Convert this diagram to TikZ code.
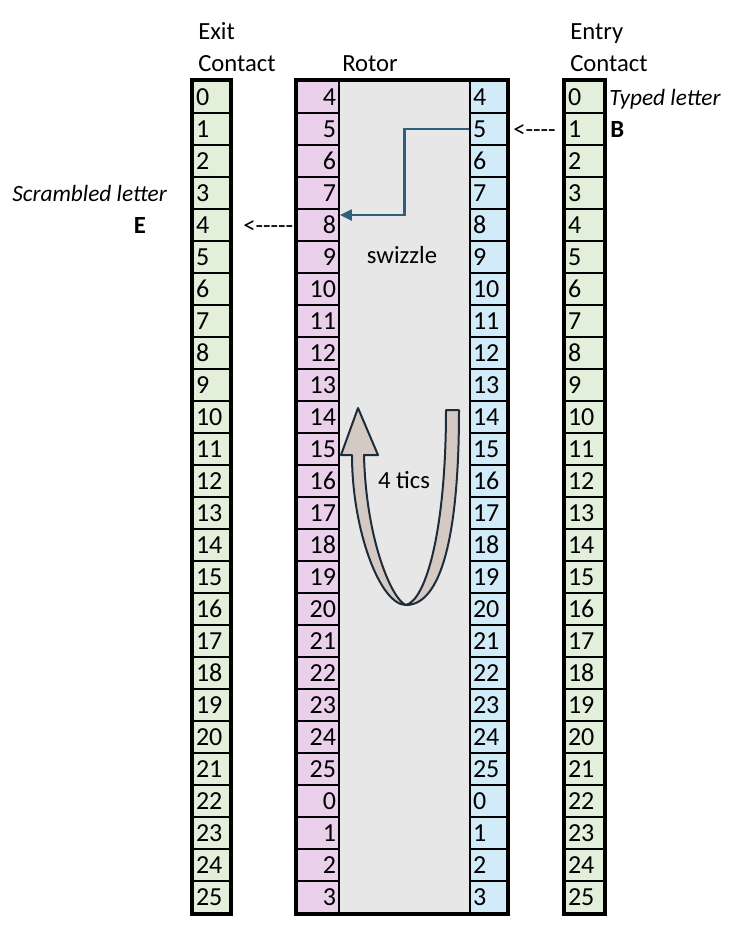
\documentclass[tikz,border=0pt]{standalone}
\usepackage{fontspec}
\setmainfont{Carlito}
\usetikzlibrary{arrows.meta}
\definecolor{cgreen}{HTML}{E2EFDA}
\definecolor{cpink}{HTML}{EBD0EC}
\definecolor{cblue}{HTML}{D2EBF8}
\definecolor{cgray}{HTML}{E7E7E7}
\definecolor{wire}{HTML}{2F5F7F}
\definecolor{tics}{HTML}{D5CAC3}
\definecolor{ticsline}{HTML}{1D2C3A}
\newcommand\myfs{\fontsize{18.5pt}{21pt}\selectfont}
\newcommand\myfsc{\fontsize{19.5pt}{22pt}\selectfont}
\newcommand\myfsi{\fontsize{17.5pt}{20pt}\selectfont\itshape}
\begin{document}
\begin{tikzpicture}[x=0.75pt,y=-0.75pt,
  every node/.style={font=\myfs},
  lbl/.style={inner sep=0pt},
  cell/.style={rectangle,draw=black,line width=1.3pt,minimum height=24pt,inner ysep=0pt,inner xsep=2.25pt,anchor=center,font=\myfsc},
  exitcell/.style={cell,fill=cgreen,text width=23.25pt,align=left},
  entrycell/.style={cell,fill=cgreen,text width=24.75pt,align=left},
  pinkcell/.style={cell,fill=cpink,text width=27pt,align=right},
  bluecell/.style={cell,fill=cblue,text width=23.25pt,align=left},
  frame/.style={draw=black,line width=3pt}
]
\useasboundingbox (0,0) rectangle (752,950);
\fill[cgray] (339,81) rectangle (470,913);
\foreach \i in {0,...,25} {
  \pgfmathtruncatemacro\r{mod(\i+4,26)}
  \pgfmathsetmacro\yc{97+32*\i}
  \node[exitcell] (ex\i) at (211.5,\yc) {\i};
  \node[pinkcell] (pk\i) at (318,\yc) {\r};
  \node[bluecell] (bl\i) at (488.5,\yc) {\r};
  \node[entrycell] (en\i) at (584.5,\yc) {\i};
}
\draw[frame] (ex0.north west) rectangle (ex25.south east);
\draw[frame] (pk0.north west) rectangle (bl25.south east);
\draw[frame] (en0.north west) rectangle (en25.south east);

\node[lbl,anchor=base west] (exitA) at (198,39) {Exit};
\node[lbl,anchor=base west] (exitB) at (198,71) {Contact};
\node[lbl,anchor=base west] (rotor) at (342,71) {Rotor};
\node[lbl,anchor=base west] (entA) at (570,39) {Entry};
\node[lbl,anchor=base west] (entB) at (570,71) {Contact};

\node[lbl,anchor=base west,font=\myfsi] (typed) at (609,105) {Typed letter};
\node[lbl,anchor=base west,font={\myfs\bfseries}] (B) at (610,137) {B};
\node[lbl,anchor=base west,font=\myfsi] (scr) at (12,201) {Scrambled letter};
\node[lbl,anchor=base,font={\myfs\bfseries}] (E) at (140,233) {E};
\node[lbl,anchor=base west] (inarrow) at (513,137) {<{-}{-}{-}{-}};
\node[lbl,anchor=base west] (outarrow) at (243,233) {<{-}{-}{-}{-}{-}};

\node[lbl,anchor=base] (swz) at (402,263) {swizzle};
\node[lbl,anchor=base] (tic) at (404,488) {4 tics};

\draw[wire,line width=2.2pt,-{Triangle[length=9pt,width=8pt]}] (bl1.west) -- ++(-65,0) |- ([yshift=7.5pt]pk4.east);

\draw[ticsline,fill=tics,line width=1.5pt,line join=round]
  (446,410) -- (459,410)
  .. controls (459,540) and (440,605) .. (406,605)
  .. controls (380,605) and (352,530) .. (352,455)
  -- (341,455) -- (358,408) -- (378,455) -- (364,455)
  .. controls (366,540) and (392,600) .. (406,605)
  .. controls (426,600) and (446,530) .. (446,410) -- cycle;
\end{tikzpicture}
\end{document}
